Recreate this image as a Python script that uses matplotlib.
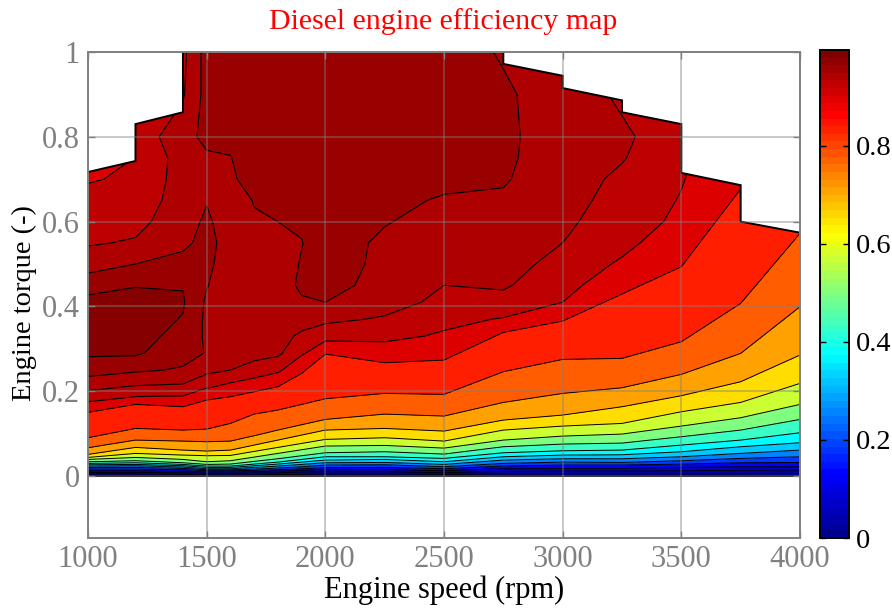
import numpy as np
import matplotlib
matplotlib.use('Agg')
import matplotlib.pyplot as plt
from matplotlib.cm import ScalarMappable
from matplotlib.colors import ListedColormap, Normalize
from matplotlib.patches import Polygon

speed = [1000, 1200, 1400, 1500, 1600, 1700, 1800, 1900, 2000, 2250, 2500, 2750, 3000, 3250, 3500, 3750, 4000]

# torque at which the efficiency reaches each level (lower part of the map)
t_002 = [.005, .005, .004, .003, .003, .003, .004, .004, .005, .005, .004, .005, .0055, .0055, .0055, .0055, .006]
t_006 = [.0086, .0086, .0079, .0063, .0063, .0071, .0079, .0094, .0102, .0102, .0079, .011, .0118, .0118, .0126, .0134, .0142]
t_012 = [.0126, .0126, .011, .0094, .0094, .0102, .0118, .0134, .0149, .0149, .0126, .0173, .0181, .0181, .0204, .022, .022]
t_018 = [.0165, .0165, .0149, .0126, .0126, .0134, .0149, .0173, .0197, .0204, .0173, .0236, .0259, .0259, .0283, .0314, .0322]
t_025 = [.0204, .0204, .0181, .0149, .0149, .0165, .0189, .022, .0259, .0267, .022, .0299, .033, .0322, .0362, .0417, .0456]
t_032 = [.0236, .0244, .0212, .0173, .0173, .0204, .0236, .0275, .0314, .0322, .0275, .0377, .0409, .0409, .0456, .0535, .0613]
t_037 = [.0267, .0275, .0244, .0204, .0204, .0244, .0283, .033, .0377, .0393, .0338, .0456, .0495, .0503, .0574, .0692, .0786]
t_043 = [.0299, .0314, .0275, .0236, .0236, .0283, .033, .0393, .0456, .0456, .0417, .055, .0597, .0613, .0731, .0849, .1022]
t_050 = [.0338, .0362, .0314, .0275, .0283, .0346, .0409, .048, .055, .0574, .0519, .0692, .0755, .0778, .0928, .1085, .1336]
t_057 = [.0393, .044, .0393, .0338, .0362, .0448, .0535, .0621, .0708, .0723, .066, .0849, .0943, .0991, .1179, .1376, .169]
t_066 = [.044, .0535, .0495, .048, .0487, .0582, .0676, .077, .0865, .0904, .0825, .1085, .1179, .1242, .1517, .1737, .2186]
t_071 = [.0511, .0676, .0613, .059, .0613, .0731, .0849, .0967, .1085, .1124, .1061, .1321, .1439, .1635, .1895, .2225, .2854]
t_078 = [.0668, .0849, .0825, .081, .0825, .0951, .1085, .1211, .1336, .1462, .1415, .1737, .195, .2083, .2398, .2893, .3994]
t_084 = [.0904, .1124, .1085, .1108, .1242, .1462, .1557, .169, .1824, .195, .1926, .2461, .2752, .2775, .3168, .4072, .5723]
t_090 = [.1502, .169, .1635, .1792, .1871, .1989, .2107, .2421, .2877, .2673, .2736, .3388, .3656, .4292, .4937, .6769, .95]
low_levels = [.02, .06, .12, .18, .25, .32, .37, .43, .497, .572, .655, .714, .78, .84, .905]

# efficiency table for the upper part, one list per speed
torque = [.17, .21, .25, .29, .33, .37, .41, .45, .50, .55, .60, .65, .70, .75, .80, .90, 1.0]
eff_1000 = [.932, .955, .979, .993, .998, .998, .996, .982, .961, .948, .944, .939, .934, .93, .93, .93, .93]
eff_1200 = [.925, .948, .973, .993, .998, .998, .997, .989, .97, .952, .944, .94, .937, .9352, .94, .94, .94]
eff_1400 = [.925, .946, .968, .977, .983, .989, .992, .989, .976, .966, .962, .958, .957, .957, .96, .948, .945]
eff_1500 = [.905, .937, .954, .969, .967, .966, .967, .971, .974, .976, .973, .969, .962, .966, .977, .977, .978]
eff_1600 = [.90, .93, .95, .955, .957, .958, .958, .959, .961, .962, .961, .96, .968, .9695, .9735, .977, .978]
eff_1700 = [.89, .925, .944, .955, .957, .958, .959, .96, .961, .964, .968, .971, .975, .977, .978, .978, .978]
eff_1800 = [.88, .918, .938, .953, .956, .958, .96, .962, .963, .967, .97, .974, .976, .978, .978, .978, .978]
eff_1900 = [.87, .905, .922, .937, .947, .957, .968, .973, .971, .9695, .972, .977, .978, .98, .98, .98, .98]
eff_2000 = [.86, .90, .915, .925, .939, .954, .97, .976, .978, .978, .98, .98, .98, .98, .98, .98, .98]
eff_2250 = [.86, .90, .915, .927, .939, .948, .958, .964, .966, .967, .971, .975, .977, .98, .98, .98, .98]
eff_2500 = [.86, .89, .91, .922, .933, .939, .945, .95, .955, .96, .964, .968, .975, .977, .98, .98, .98]
eff_2750 = [.85, .88, .90, .915, .925, .934, .945, .952, .957, .961, .964, .967, .972, .974, .974, .973, .968]
eff_3000 = [.84, .87, .89, .905, .915, .925, .935, .939, .944, .95, .953, .955, .957, .958, .96, .96, .96]
eff_3250 = [.83, .85, .87, .885, .895, .905, .915, .927, .933, .939, .942, .945, .947, .951, .953, .947, .94]
eff_3500 = [.80, .83, .85, .865, .875, .885, .895, .905, .92, .926, .932, .934, .936, .938, .9395, .937, .935]
eff_3750 = [.78, .80, .82, .84, .85, .86, .87, .88, .89, .90, .91, .915, .92, .92, .92, .92, .92]
eff_4000 = [.76, .78, .80, .81, .82, .83, .84, .85, .86, .87, .88, .89, .90, .91, .92, .92, .92]
high_levels = [.935, .95, .97, .99]

# maximum torque curve, stepped
env_speed = [1000, 1200, 1200, 1400, 1400, 2750, 2750, 3000, 3000, 3250, 3250, 3500, 3500, 3750, 3750, 4000]
env_torque = [.717, .743, .83, .858, 1, 1, .972, .944, .915, .886, .858, .83, .715, .686, .6, .574]

serif = 'Liberation Serif'
grey = '#808080'
c_max = 0.995


def jet(x):
    # jet with the breakpoints of the original tool
    r = np.interp(x, [0, .375, .625, .875, 1], [0, 0, 1, 1, .5])
    g = np.interp(x, [0, .125, .375, .625, .875, 1], [0, 0, 1, 1, 0, 0])
    b = np.interp(x, [0, .125, .375, .625, 1], [.5625, 1, 1, 0, 0])
    return np.column_stack([r, g, b])


cmap = ListedColormap(jet(np.linspace(0, 1, 64)))
band = lambda lev: tuple(jet(lev / c_max)[0])

fig = plt.figure(figsize=(8.92, 6.08), dpi=100)
ax = fig.add_axes([88 / 892, 1 - 538 / 608, 712 / 892, 486 / 608])

outline = Polygon(list(zip([1000] + env_speed + [4000], [0] + env_torque + [0])), closed=True,
                  transform=ax.transData, facecolor='none', edgecolor='none')
ax.add_patch(outline)

# lower bands: the rows follow the level crossings
t_rows = np.array([np.zeros(len(speed)), t_002, t_006, t_012, t_018, t_025, t_032, t_037, t_043,
                   t_050, t_057, t_066, t_071, t_078, t_084, t_090, np.full(len(speed), 1.05)])
z_rows = np.array([0] + low_levels + [.93])
s_grid = np.tile(speed, (len(z_rows), 1))
z_grid = np.tile(z_rows[:, None], (1, len(speed)))
lev = [0] + low_levels + [.935]
cf = ax.contourf(s_grid, t_rows, z_grid, levels=lev, colors=[band(v) for v in lev[:-1]], zorder=1)
cl = ax.contour(s_grid, t_rows, z_grid, levels=low_levels, colors='k', linewidths=0.7, zorder=1.5)

# upper bands: regular speed/torque table
eff = np.column_stack([eff_1000, eff_1200, eff_1400, eff_1500, eff_1600, eff_1700, eff_1800, eff_1900, eff_2000,
                       eff_2250, eff_2500, eff_2750, eff_3000, eff_3250, eff_3500, eff_3750, eff_4000])
lev2 = high_levels + [1.0]
cf2 = ax.contourf(speed, torque, eff, levels=lev2, colors=[band(v) for v in high_levels], zorder=1.2)
cl2 = ax.contour(speed, torque, eff, levels=high_levels, colors='k', linewidths=0.8, zorder=1.5)
for c in (cf, cl, cf2, cl2):
    c.set_clip_path(outline)

ax.plot(env_speed, env_torque, color='k', lw=1.4, zorder=2, solid_joinstyle='miter')
ax.plot([1000, 4000], [0, 0], color='k', lw=1.4, zorder=2)

ax.set_xlim(1000, 4000)
ax.set_ylim(-0.146, 1)
ax.set_xticks([1000, 1500, 2000, 2500, 3000, 3500, 4000])
ax.set_yticks([0, .2, .4, .6, .8, 1])
ax.set_yticklabels(['0', '0.2', '0.4', '0.6', '0.8', '1'])
ax.set_axisbelow(False)
ax.grid(True, color=grey, alpha=0.55, lw=1.1, zorder=3)
ax.tick_params(direction='in', length=5, width=1, color=grey, labelcolor=grey, labelsize=22,
               top=True, right=True, pad=5)
ax.tick_params(axis='y', pad=6)
for lab in ax.get_xticklabels() + ax.get_yticklabels():
    lab.set_family(serif)
for sp in ax.spines.values():
    sp.set_color(grey)
    sp.set_linewidth(1.4)

ax.set_xlabel('Engine speed (rpm)', family=serif, fontsize=22, color='k', labelpad=1)
fig.text(24 / 892, 1 - 303 / 608, 'Engine torque (-)', family=serif, fontsize=20.5, color='k',
         rotation=90, ha='center', va='center')
fig.text(443 / 892, 1 - 22 / 608, 'Diesel engine efficiency map', family=serif, fontsize=21.5, color='red',
         ha='center', va='center')

cax = fig.add_axes([820 / 892, 1 - 538 / 608, 29 / 892, 488 / 608])
cb = fig.colorbar(ScalarMappable(norm=Normalize(0, c_max), cmap=cmap), cax=cax)
cb.set_ticks([0, .2, .4, .6, .8])
cb.set_ticklabels(['0', '0.2', '0.4', '0.6', '0.8'])
cb.ax.tick_params(direction='in', length=4, width=1, labelsize=20.5, labelcolor='k', pad=5, left=True, right=True)
for lab in cb.ax.get_yticklabels():
    lab.set_family(serif)
cb.outline.set_linewidth(1.4)
cb.outline.set_edgecolor('k')

fig.savefig('out.png', dpi=100)
